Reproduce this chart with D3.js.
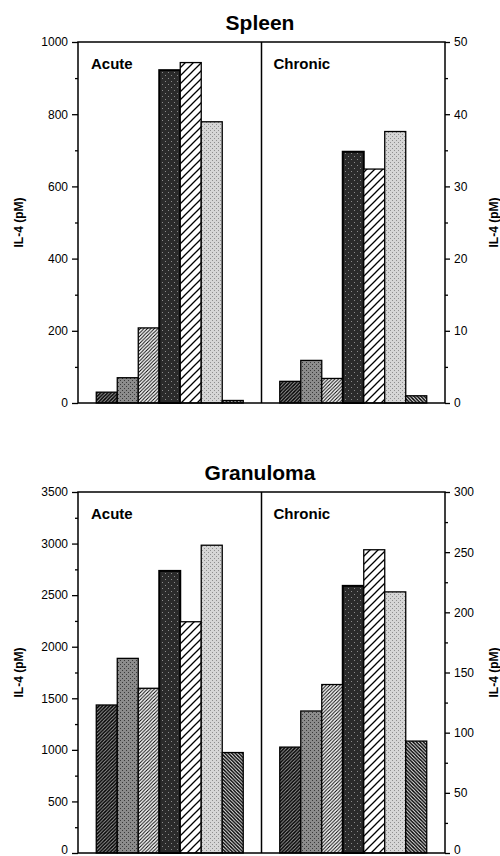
<!DOCTYPE html>
<html>
<head>
<meta charset="utf-8">
<script src="https://cdn.jsdelivr.net/npm/d3@7"></script>
<style>
  body { margin: 0; background: #fff; }
  svg { font-family: "Liberation Sans", Arial, Helvetica, sans-serif; }
</style>
</head>
<body>
<div id="chart"></div>
<script>
// data (7 treatment groups per panel)
var groups = ["g1", "g2", "g3", "g4", "g5", "g6", "g7"];
var phases = ["Acute", "Chronic"];

// Spleen: acute on left axis (0-1000), chronic on right axis (0-50)
var spleenAcute = [30, 70, 208, 922, 943, 779, 7];
var spleenChronic = [3.0, 5.9, 3.4, 34.8, 32.4, 37.6, 1.0];

// Granuloma: acute on left axis (0-3500), chronic on right axis (0-300)
var granAcute = [1435, 1887, 1597, 2735, 2242, 2984, 974];
var granChronic = [88, 118, 140, 222, 252, 217, 93];

var width = 500, height = 856;

var svg = d3.select("#chart")
  .append("svg")
    .attr("width", width)
    .attr("height", height);

// fill patterns, one per group
var defs = svg.append("defs");

function hatch(id, size, sw, dir, bg) {
  var p = defs.append("pattern")
    .attr("id", id)
    .attr("patternUnits", "userSpaceOnUse")
    .attr("width", size).attr("height", size);
  p.append("rect").attr("width", size).attr("height", size).attr("fill", bg);
  var d = dir > 0
    ? "M0," + size + " L" + size + ",0 M-1,1 L1,-1 M" + (size - 1) + "," + (size + 1) + " L" + (size + 1) + "," + (size - 1)
    : "M0,0 L" + size + "," + size + " M-1," + (size - 1) + " L1," + (size + 1) + " M" + (size - 1) + ",-1 L" + (size + 1) + ",1";
  p.append("path").attr("d", d).attr("stroke", "#000").attr("stroke-width", sw);
}

function screen(id, bg, dot, step) {
  var p = defs.append("pattern")
    .attr("id", id)
    .attr("patternUnits", "userSpaceOnUse")
    .attr("width", step * 2).attr("height", step * 2);
  p.append("rect").attr("width", step * 2).attr("height", step * 2).attr("fill", bg);
  p.append("rect").attr("x", 0).attr("y", 0).attr("width", 1).attr("height", 1).attr("fill", dot);
  p.append("rect").attr("x", step).attr("y", step).attr("width", 1).attr("height", 1).attr("fill", dot);
}

hatch("p1", 3.5, 1.6, 1, "#aaa");
screen("p2", "#8c8c8c", "#3a3a3a", 2);
hatch("p3", 3.5, 1.0, 1, "#fff");
screen("p4", "#2b2b2b", "#8a8a8a", 3);
hatch("p5", 8, 1.3, 1, "#fff");
screen("p6", "#d6d6d6", "#8f8f8f", 2);
hatch("p7", 3.5, 1.5, -1, "#fff");

var fills = d3.scaleOrdinal()
  .domain(groups)
  .range(["url(#p1)", "url(#p2)", "url(#p3)", "url(#p4)", "url(#p5)", "url(#p6)", "url(#p7)"]);

function drawPanel(opt) {
  var x0 = 78, x1 = 445, y0 = opt.top, y1 = opt.top + 361;

  var g = svg.append("g");

  var xPhase = d3.scaleBand().domain(phases).range([x0, x1]).padding(0);
  var xBar = d3.scaleBand().domain(groups)
    .range([0, xPhase.bandwidth()])
    .paddingInner(0).paddingOuter(0.87);

  var yL = d3.scaleLinear().domain([0, opt.leftMax]).range([y1, y0]);
  var yR = d3.scaleLinear().domain([0, opt.rightMax]).range([y1, y0]);

  // title
  g.append("text")
    .attr("x", 260).attr("y", opt.top - 12)
    .attr("text-anchor", "middle")
    .attr("font-size", 21).attr("font-weight", "bold")
    .text(opt.title);

  // bars
  var series = [
    {phase: "Acute", y: yL, vals: opt.acute},
    {phase: "Chronic", y: yR, vals: opt.chronic}
  ];
  series.forEach(function(s) {
    g.append("g")
      .selectAll("rect")
      .data(s.vals)
      .enter()
      .append("rect")
        .attr("x", function(d, i) { return xPhase(s.phase) + xBar(groups[i]); })
        .attr("y", function(d) { return s.y(d); })
        .attr("width", xBar.bandwidth())
        .attr("height", function(d) { return y1 - s.y(d); })
        .attr("fill", function(d, i) { return fills(groups[i]); })
        .attr("stroke", "#000")
        .attr("stroke-width", function(d, i) { return i == 3 ? 2 : 1.3; });
  });

  // frame + divider
  g.append("rect")
    .attr("x", x0).attr("y", y0)
    .attr("width", x1 - x0).attr("height", y1 - y0)
    .attr("fill", "none").attr("stroke", "#000").attr("stroke-width", 1.5);
  g.append("line")
    .attr("x1", xPhase("Chronic")).attr("x2", xPhase("Chronic"))
    .attr("y1", y0).attr("y2", y1)
    .attr("stroke", "#000").attr("stroke-width", 1.5);

  // phase labels
  phases.forEach(function(p, i) {
    g.append("text")
      .attr("x", xPhase(p) + (i == 0 ? 13 : 12))
      .attr("y", y0 + 27)
      .attr("font-size", 15).attr("font-weight", "bold")
      .text(p);
  });

  // left axis
  var la = g.append("g").attr("transform", "translate(" + x0 + ",0)");
  la.call(d3.axisLeft(yL).tickValues(d3.range(0, opt.leftMax + 1, opt.leftMax / opt.leftN))
    .tickSize(6).tickPadding(4).tickFormat(d3.format("d")));
  la.append("g").call(d3.axisLeft(yL).tickValues(d3.range(opt.leftMax / opt.leftN / 2, opt.leftMax, opt.leftMax / opt.leftN))
    .tickSize(3).tickFormat(""));

  // right axis
  var ra = g.append("g").attr("transform", "translate(" + x1 + ",0)");
  ra.call(d3.axisRight(yR).tickValues(d3.range(0, opt.rightMax + 1, opt.rightMax / opt.rightN))
    .tickSize(5).tickPadding(4).tickFormat(d3.format("d")));
  ra.append("g").call(d3.axisRight(yR).tickValues(d3.range(opt.rightMax / opt.rightN / 2, opt.rightMax, opt.rightMax / opt.rightN))
    .tickSize(3).tickFormat(""));

  g.selectAll(".domain").remove();
  g.selectAll(".tick line").attr("stroke-width", 1.3);
  g.selectAll(".tick text")
    .attr("font-size", 12)
    .attr("font-family", "'Liberation Sans', Arial, sans-serif")
    .attr("fill", "#000");

  // keep the bottom "0" labels inside the page
  if (opt.lift) {
    g.selectAll(".tick text").filter(function(d) { return d === 0; })
      .attr("dy", "0.05em");
  }

  // axis titles
  var mid = (y0 + y1) / 2;
  g.append("text")
    .attr("transform", "translate(23," + mid + ") rotate(-90)")
    .attr("text-anchor", "middle")
    .attr("font-size", 12).attr("font-weight", "bold")
    .text("IL-4 (pM)");
  g.append("text")
    .attr("transform", "translate(498," + mid + ") rotate(-90)")
    .attr("text-anchor", "middle")
    .attr("font-size", 12).attr("font-weight", "bold")
    .text("IL-4 (pM)");
}

drawPanel({title: "Spleen", top: 42, leftMax: 1000, leftN: 5, rightMax: 50, rightN: 5,
  acute: spleenAcute, chronic: spleenChronic});
drawPanel({title: "Granuloma", top: 492, leftMax: 3500, leftN: 7, rightMax: 300, rightN: 6,
  acute: granAcute, chronic: granChronic, lift: true});
</script>
</body>
</html>
